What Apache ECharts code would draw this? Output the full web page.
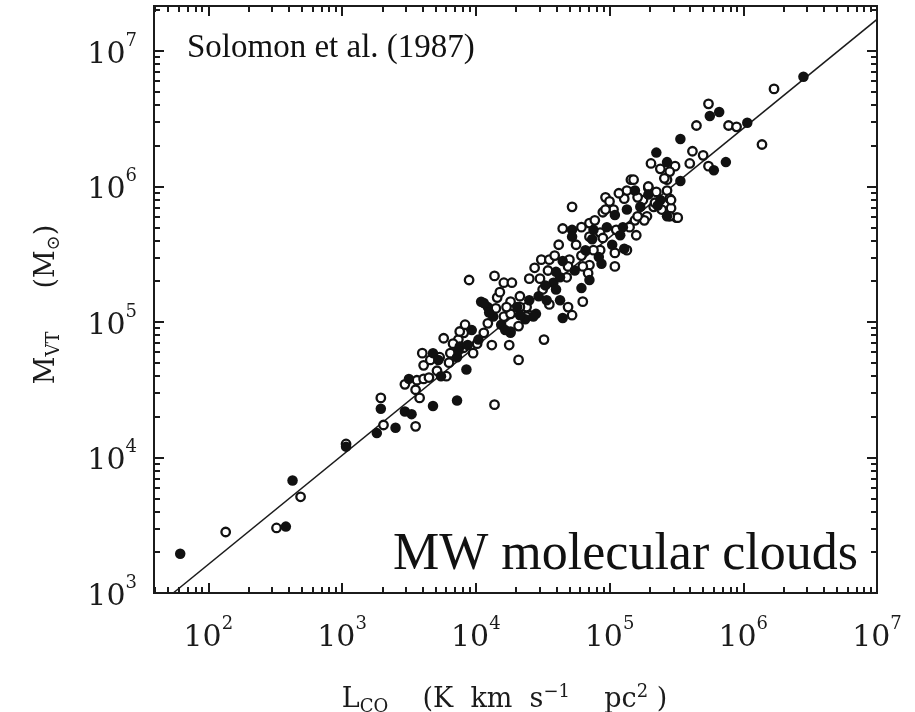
<!DOCTYPE html>
<html>
<head>
<meta charset="utf-8">
<script src="https://cdn.jsdelivr.net/npm/echarts@6/dist/echarts.min.js"></script>
<style>
html,body{margin:0;padding:0;background:#ffffff;}
#chart{width:915px;height:712px;}
</style>
</head>
<body>
<div id="chart"></div>
<script>
// ---- Data (log10 values) ----
// log10 L_CO [K km s^-1 pc^2], log10 M_VT [M_sun]
const filledClouds = [
[1.79,3.29],[2.58,3.49],[2.63,3.83],[3.03,4.08],[3.26,4.18],[3.40,4.22],[3.47,4.34],[3.52,4.32],
[3.68,4.38],[3.86,4.42],[3.29,4.36],[3.93,4.65],[3.50,4.58],[3.68,4.77],[3.74,4.60],[3.72,4.72],
[3.88,4.82],[3.86,4.74],[3.87,4.79],[3.97,4.94],[4.02,4.87],[4.04,5.15],[4.09,5.11],[4.13,5.04],
[4.19,4.98],[4.31,5.11],[4.26,4.93],[4.37,5.02],[4.45,5.06],[4.47,5.19],[4.53,5.16],[4.58,5.29],
[4.63,5.33],[4.60,5.24],[4.65,5.03],[4.72,5.68],[4.72,5.63],[4.79,5.25],[4.82,5.53],[4.87,5.61],
[4.94,5.43],[4.92,5.48],[4.65,5.45],[4.60,5.37],[4.63,5.16],[4.43,5.04],[4.33,5.05],[4.06,5.14],
[4.26,4.92],[4.88,5.68],[5.02,5.57],[5.10,5.70],[5.04,5.79],[5.13,5.83],[5.19,5.97],[5.23,5.85],
[5.38,5.90],[5.43,5.78],[5.53,6.04],[5.43,6.18],[5.35,6.25],[5.53,6.35],[5.75,6.52],[5.82,6.55],
[6.03,6.47],[6.45,6.81],[5.78,6.12],[5.87,6.18],[5.11,5.54],[4.22,4.94],[4.40,5.16],[4.74,5.38],
[5.08,5.64],[5.29,5.94],[3.94,4.83],[4.85,5.31],[4.10,5.07],[4.52,5.27],[4.98,5.70],[5.36,5.86]
];
const openClouds = [
[2.13,3.45],[2.51,3.48],[2.69,3.71],[3.03,4.10],[3.31,4.24],[3.55,4.23],[3.29,4.44],[3.58,4.44],
[4.14,4.39],[4.32,4.72],[4.51,4.87],[3.47,4.54],[3.56,4.57],[3.61,4.58],[3.55,4.50],[3.65,4.59],
[3.71,4.64],[3.61,4.68],[3.60,4.77],[3.73,4.74],[3.78,4.60],[3.76,4.88],[3.80,4.70],[3.87,4.87],
[3.81,4.77],[3.91,4.92],[3.91,4.81],[3.83,4.84],[3.98,4.77],[4.01,4.84],[4.06,4.92],[4.12,4.83],
[4.25,4.83],[4.16,5.18],[4.15,5.10],[4.09,4.99],[4.21,5.04],[4.26,5.06],[4.26,5.15],[4.33,5.19],
[4.38,5.11],[4.32,4.97],[4.40,5.05],[4.50,5.24],[4.48,5.32],[4.49,5.46],[4.55,5.46],[4.59,5.49],
[4.54,5.38],[4.68,5.33],[4.55,5.13],[4.70,5.46],[4.65,5.69],[4.72,5.85],[3.95,5.31],[4.14,5.34],
[4.21,5.29],[4.27,5.29],[4.40,5.32],[4.80,5.15],[4.72,5.05],[4.69,5.11],[4.79,5.70],[4.85,5.73],
[4.89,5.75],[4.93,5.53],[4.97,5.92],[4.95,5.81],[4.85,5.42],[4.80,5.41],[4.84,5.36],[4.75,5.57],
[4.79,5.49],[4.69,5.41],[4.23,5.11],[4.33,5.11],[4.38,5.04],[3.88,4.93],[5.65,6.45],[5.62,6.26],
[5.60,6.17],[5.31,6.17],[5.38,6.13],[5.49,6.15],[5.45,6.11],[5.43,6.05],[5.43,5.97],[5.16,6.05],
[5.29,5.99],[5.13,5.97],[5.35,5.96],[5.45,5.91],[5.33,5.85],[5.39,5.83],[5.50,5.77],[5.46,5.84],
[5.25,5.90],[5.28,5.78],[5.19,5.75],[5.15,5.70],[5.20,5.64],[5.11,5.91],[5.21,5.92],[5.00,5.89],
[5.03,5.83],[4.97,5.83],[4.93,5.66],[4.85,5.63],[4.95,5.62],[5.05,5.68],[5.13,5.53],[5.04,5.51],
[4.88,5.53],[5.74,6.61],[5.89,6.45],[5.95,6.44],[6.14,6.31],[6.23,6.72],[5.70,6.23],[5.74,6.15],
[5.41,6.06],[5.18,6.05],[5.29,6.00],[5.46,5.90],[5.51,5.77],[5.45,5.78],[5.34,5.88],[5.26,5.75],
[5.21,5.78],[5.04,5.41],[3.66,4.72],[3.92,4.98],[4.18,5.22],[4.44,5.40],[4.62,5.57],[5.07,5.95]
];
// fitted relation, two end points (log10 L_CO, log10 M_VT)
const fitLine = [[1.738,3.0],[7.0,7.234]];
// tick labels (decade exponents)
const xMajorTicks = [2,3,4,5,6,7];
const yMajorTicks = [3,4,5,6,7];
const X_MIN = 1.594, X_MAX = 7.0, Y_MIN = 3.0, Y_MAX = 7.332;

// ---- Chart ----
const ink = '#1b1b1b';
const serif = 'Liberation Serif';
const labelFont = 'DejaVu Serif';
const titleFont = 'DejaVu Serif';

function minorTicks(lo, hi){
  const out = [];
  for (let n = Math.floor(lo); n <= Math.ceil(hi); n++){
    for (let k = 2; k <= 9; k++){
      const v = n + Math.log10(k);
      if (v > lo && v < hi) out.push(v);
    }
  }
  return out;
}
const xMinor = minorTicks(X_MIN, X_MAX);
const yMinor = minorTicks(Y_MIN, Y_MAX);

const labelRich = {
  b:{fontFamily:labelFont,fontSize:30,color:ink,lineHeight:38,verticalAlign:'bottom'},
  s:{fontFamily:labelFont,fontSize:18,color:ink,lineHeight:19,verticalAlign:'top'}
};

function mkAxis(isX, pos, ticks, len, labels){
  const ax = {
    type:'value', position:pos,
    min: isX ? X_MIN : Y_MIN, max: isX ? X_MAX : Y_MAX,
    splitLine:{show:false},
    axisLine:{show:true,onZero:false,lineStyle:{color:ink,width:2}},
    axisTick:{show:true,inside:true,length:len,customValues:ticks,lineStyle:{color:ink,width:2}},
    axisLabel:{show:false},
    silent:true
  };
  if (labels){
    ax.axisLabel = {
      show:true, customValues:labels, margin: isX ? 22 : 17,
      formatter: v => '{b|10}{s|' + Math.round(v) + '}',
      rich: labelRich
    };
  }
  return ax;
}

const xAxes = [
  mkAxis(true,'bottom',xMajorTicks,10,xMajorTicks),
  mkAxis(true,'bottom',xMinor,6,null),
  mkAxis(true,'top',xMajorTicks,10,null),
  mkAxis(true,'top',xMinor,6,null)
];
const yAxes = [
  mkAxis(false,'left',yMajorTicks,10,yMajorTicks),
  mkAxis(false,'left',yMinor,6,null),
  mkAxis(false,'right',yMajorTicks,10,null),
  mkAxis(false,'right',yMinor,6,null)
];

xAxes[0].name = 'L{sub|CO}    (K  km  s{sup|−1}    pc{sup|2} )';
xAxes[0].nameLocation = 'middle';
xAxes[0].nameGap = 90;
xAxes[0].nameTextStyle = {
  fontFamily:titleFont, fontSize:27, color:ink, padding:[0,22,0,0],
  rich:{
    sub:{fontFamily:titleFont,fontSize:18,color:ink,padding:[15,0,0,0]},
    sup:{fontFamily:titleFont,fontSize:18,color:ink,padding:[0,0,15,0]}
  }
};
yAxes[0].name = 'M{sub|VT}     (M{sub|⊙})';
yAxes[0].nameLocation = 'middle';
yAxes[0].nameRotate = 90;
yAxes[0].nameGap = 91;
yAxes[0].nameTextStyle = {
  fontFamily:titleFont, fontSize:27, color:ink, padding:[0,10,0,0],
  rich:{
    sub:{fontFamily:titleFont,fontSize:18,color:ink,padding:[15,0,0,0]}
  }
};

const chart = echarts.init(document.getElementById('chart'), null, {renderer:'canvas'});
chart.setOption({
  backgroundColor:'#ffffff',
  animation:false,
  grid:{left:154,right:38,top:6,bottom:119,containLabel:false,outerBoundsMode:'none'},
  xAxis:xAxes,
  yAxis:yAxes,
  graphic:[
    {type:'text', x:187, y:48, silent:true,
     style:{text:'Solomon et al. (1987)', fontFamily:serif, fontSize:33, fill:'#111', textAlign:'left', textVerticalAlign:'middle', verticalAlign:'middle'}},
    {type:'text', x:858, y:555, silent:true,
     style:{text:'MW molecular clouds', fontFamily:serif, fontSize:52, fill:'#111', textAlign:'right', textVerticalAlign:'middle', verticalAlign:'middle'}}
  ],
  series:[
    {type:'line', data:fitLine, xAxisIndex:0, yAxisIndex:0, symbol:'none',
     lineStyle:{color:ink,width:1.6}, silent:true, z:1},
    {type:'scatter', data:openClouds, xAxisIndex:0, yAxisIndex:0, symbol:'circle', symbolSize:8.5,
     itemStyle:{color:'#ffffff',borderColor:'#111',borderWidth:2.3,opacity:1}, silent:true, z:2},
    {type:'scatter', data:filledClouds, xAxisIndex:0, yAxisIndex:0, symbol:'circle', symbolSize:10.5,
     itemStyle:{color:'#111',opacity:1}, silent:true, z:3}
  ]
});
</script>
</body>
</html>
